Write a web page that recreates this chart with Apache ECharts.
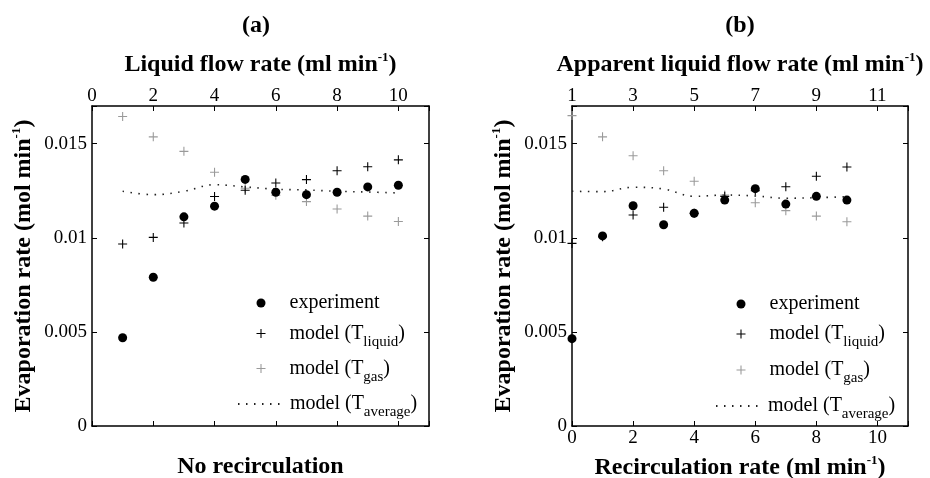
<!DOCTYPE html>
<html>
<head>
<meta charset="utf-8">
<script src="https://cdn.jsdelivr.net/npm/echarts@6/dist/echarts.min.js"></script>
<style>
  html, body { margin: 0; padding: 0; background: #fff; }
  #chart { width: 930px; height: 478px; }
</style>
</head>
<body>
<div id="chart"></div>
<script>
// ---- Panel (a): no recirculation, x = liquid flow rate (ml/min) ----
const flowRate = [1, 2, 3, 4, 5, 6, 7, 8, 9, 10];
const expA = [0.00469, 0.0079, 0.01111, 0.01168, 0.0131, 0.01242, 0.01229, 0.01242, 0.0127, 0.01279];
const liqA = [0.00967, 0.01002, 0.01078, 0.01219, 0.01252, 0.01291, 0.01309, 0.01356, 0.01377, 0.01414];
const gasA = [0.01644, 0.01536, 0.01459, 0.01348, 0.01263, 0.01226, 0.01192, 0.01153, 0.01115, 0.01086];
const avgA = [0.01247, 0.01229, 0.01247, 0.01282, 0.0127, 0.01258, 0.01254, 0.01247, 0.01243, 0.01238];

// ---- Panel (b): x = recirculation rate (ml/min) ----
const recircRate = [0, 1, 2, 3, 4, 5, 6, 7, 8, 9];
const expB = [0.00464, 0.0101, 0.0117, 0.01069, 0.0113, 0.0120, 0.01261, 0.01179, 0.0122, 0.0120];
const liqB = [0.0097, 0.01005, 0.01121, 0.01162, 0.0113, 0.0122, 0.0125, 0.01271, 0.01327, 0.01376];
const gasB = [0.01649, 0.01536, 0.01436, 0.01356, 0.0130, 0.01227, 0.01186, 0.01144, 0.01115, 0.01085];
const avgB = [0.01247, 0.01245, 0.01268, 0.01259, 0.0122, 0.01227, 0.01222, 0.0121, 0.01213, 0.01218];

// ---- tick labels ----
const flowTicks = ['0', '2', '4', '6', '8', '10'];
const apparentTicks = ['1', '3', '5', '7', '9', '11'];
const recircTicks = ['0', '2', '4', '6', '8', '10'];
const rateTicks = ['0', '0.005', '0.01', '0.015'];

const SERIF = 'Liberation Serif';
const CROSS = 'path://M4.4,0H5.6V4.4H10V5.6H5.6V10H4.4V5.6H0V4.4H4.4Z';
const GREY = '#9a9a9a';

const NAMES = {
  exp: 'experiment',
  liq: 'model (T liquid)',
  gas: 'model (T gas)',
  avg: 'model (T average)'
};
const legendText = {};
legendText[NAMES.exp] = '{sp|\u200b}{n|experiment}';
legendText[NAMES.liq] = '{sp|\u200b}{n|model (T}{s|liquid}{n|)}';
legendText[NAMES.gas] = '{sp|\u200b}{n|model (T}{s|gas}{n|)}';
legendText[NAMES.avg] = '{sp|\u200b}{n|model (T}{s|average}{n|)}';

const legendRich = {
  sp: { fontSize: 1, lineHeight: 32 },
  n: { fontFamily: SERIF, fontSize: 20, color: '#000', verticalAlign: 'middle', lineHeight: 20 },
  s: { fontFamily: SERIF, fontSize: 15, color: '#000', verticalAlign: 'bottom', lineHeight: 14 }
};

const nameRich = {
  b: { fontFamily: SERIF, fontWeight: 'bold', fontSize: 24, color: '#000', verticalAlign: 'middle', lineHeight: 28 },
  p: { fontFamily: SERIF, fontWeight: 'bold', fontSize: 13, color: '#000', verticalAlign: 'top', lineHeight: 14 }
};

const lineStyleAxis = { color: '#000', width: 1.5 };
const tickStyle = { show: true, inside: true, length: 5, lineStyle: { color: '#000', width: 1 } };
const labelFont = { fontFamily: SERIF, fontSize: 19, color: '#000' };

function xAxis(gridIndex, position, labels, name, nameGap, margin) {
  return {
    type: 'value', gridIndex, position, min: 0, max: 11, interval: 2,
    axisLine: { show: true, onZero: false, lineStyle: lineStyleAxis },
    axisTick: tickStyle,
    splitLine: { show: false },
    axisLabel: labels
      ? Object.assign({ show: true, margin, formatter: (v, i) => labels[i] ?? '' }, labelFont)
      : { show: false },
    name, nameLocation: 'middle', nameGap,
    nameTextStyle: { rich: nameRich }
  };
}

function yAxis(gridIndex, position, withLabels, name) {
  return {
    type: 'value', gridIndex, position, min: 0, max: 0.017, interval: 0.005,
    axisLine: { show: true, onZero: false, lineStyle: lineStyleAxis },
    axisTick: tickStyle,
    splitLine: { show: false },
    axisLabel: withLabels
      ? Object.assign({ show: true, margin: 5, formatter: (v, i) => rateTicks[i] ?? '' }, labelFont)
      : { show: false },
    name: withLabels ? name : '',
    nameLocation: 'middle', nameGap: 54, nameRotate: 90,
    nameTextStyle: { rich: nameRich }
  };
}

function pairs(xs, ys) { return xs.map((x, i) => [x, ys[i]]); }

function panelSeries(xIdx, yIdx, xs, exp, liq, gas, avg) {
  return [
    { name: NAMES.avg, type: 'line', xAxisIndex: xIdx, yAxisIndex: yIdx, data: pairs(xs, avg),
      showSymbol: false, symbol: 'none', symbolSize: 0, smooth: 0.4,
      itemStyle: { color: '#222' },
      lineStyle: { color: '#222', width: 1.6, type: [1.5, 6.5] }, z: 2 },
    { name: NAMES.gas, type: 'scatter', xAxisIndex: xIdx, yAxisIndex: yIdx, data: pairs(xs, gas),
      symbol: CROSS, symbolSize: 9, itemStyle: { color: GREY, opacity: 1 }, z: 3 },
    { name: NAMES.liq, type: 'scatter', xAxisIndex: xIdx, yAxisIndex: yIdx, data: pairs(xs, liq),
      symbol: CROSS, symbolSize: 9, itemStyle: { color: '#000', opacity: 1 }, z: 4 },
    { name: NAMES.exp, type: 'scatter', xAxisIndex: xIdx, yAxisIndex: yIdx, data: pairs(xs, exp),
      symbol: 'circle', symbolSize: 9, itemStyle: { color: '#000', opacity: 1 }, z: 5 }
  ];
}

// one legend per entry so each row sits at its own height;
// symbol rows are placed by the symbol's left edge, the line row by the line's start
function legendItem(name, left, centerY, isLine) {
  return {
    data: [isLine ? { name, itemStyle: { opacity: 0 } } : name],
    left, top: centerY - 9, orient: 'horizontal', padding: 0, itemGap: 0,
    itemWidth: 47, itemHeight: 9, selectedMode: false,
    formatter: n => legendText[n],
    textStyle: { rich: legendRich }
  };
}

const yName = '{b|Evaporation rate (mol min}{p|-1}{b|)}';

const option = {
  animation: false,
  backgroundColor: '#fff',
  grid: [
    { left: 92, top: 106, width: 337, height: 320, outerBoundsMode: 'none', containLabel: false },
    { left: 572, top: 106, width: 336, height: 320, outerBoundsMode: 'none', containLabel: false }
  ],
  xAxis: [
    xAxis(0, 'top', flowTicks, '{b|Liquid flow rate (ml min}{p|-1}{b|)}', 27, 0),
    xAxis(0, 'bottom', null, '{b|No recirculation}', 27, 0),
    xAxis(1, 'top', apparentTicks, '{b|Apparent liquid flow rate (ml min}{p|-1}{b|)}', 27, 0),
    xAxis(1, 'bottom', recircTicks, '{b|Recirculation rate (ml min}{p|-1}{b|)}', 28, 3)
  ],
  yAxis: [
    yAxis(0, 'left', true, yName),
    yAxis(0, 'right', false),
    yAxis(1, 'left', true, yName),
    yAxis(1, 'right', false)
  ],
  legend: [
    legendItem(NAMES.exp, 256.5, 302),
    legendItem(NAMES.liq, 256.5, 332.5),
    legendItem(NAMES.gas, 256.5, 367.5),
    legendItem(NAMES.avg, 237, 403, true),
    legendItem(NAMES.exp, 736.5, 303),
    legendItem(NAMES.liq, 736.5, 333),
    legendItem(NAMES.gas, 736.5, 369),
    legendItem(NAMES.avg, 715, 405, true)
  ],
  graphic: [
    { type: 'text', x: 256, y: 26, style: { text: '(a)', font: 'bold 24px "' + SERIF + '"', fill: '#000', textAlign: 'center', textVerticalAlign: 'middle' } },
    { type: 'text', x: 740, y: 26, style: { text: '(b)', font: 'bold 24px "' + SERIF + '"', fill: '#000', textAlign: 'center', textVerticalAlign: 'middle' } }
  ],
  series: [].concat(
    panelSeries(0, 0, flowRate, expA, liqA, gasA, avgA),
    panelSeries(3, 2, recircRate, expB, liqB, gasB, avgB)
  )
};

const chart = echarts.init(document.getElementById('chart'), null, { renderer: 'canvas' });
chart.setOption(option);
</script>
</body>
</html>
